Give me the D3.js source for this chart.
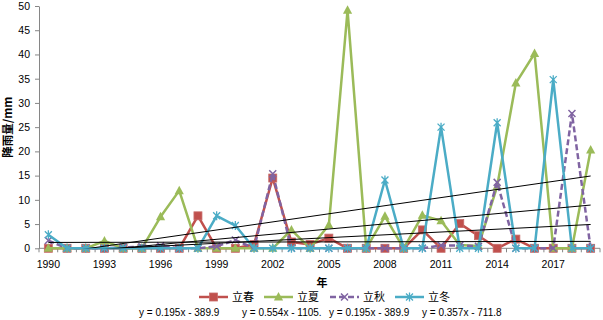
<!DOCTYPE html>
<html>
<head>
<meta charset="utf-8">
<script src="https://cdn.jsdelivr.net/npm/d3@7"></script>
<style>
  body { margin: 0; background: #fff; }
  svg { display: block; }
</style>
</head>
<body>
<svg width="603" height="320"></svg>
<script>
// 年份 / categories
const years = [1990, 1991, 1992, 1993, 1994, 1995, 1996, 1997, 1998, 1999,
               2000, 2001, 2002, 2003, 2004, 2005, 2006, 2007, 2008, 2009,
               2010, 2011, 2012, 2013, 2014, 2015, 2016, 2017, 2018, 2019]
const yearLabels = [1990, 1993, 1996, 1999, 2002, 2005, 2008, 2011, 2014, 2017]
const yTicks = [0, 5, 10, 15, 20, 25, 30, 35, 40, 45, 50]

// 降雨量 (mm)
const lichun = [0, 0, 0, 0, 0, 0, 0, 0, 6.7, 0,
                0, 0.8, 14.5, 1.3, 0.8, 2.1, 0, 0, 0, 0,
                3.8, 0, 5.1, 2.6, 0, 1.9, 0, 0, 0, 0]
const lixia = [0, 0, 0, 1.5, 0, 0, 6.5, 11.9, 0, 0,
               0, 0, 0, 3.8, 0, 4.8, 49.1, 0, 6.6, 0,
               6.8, 5.7, 0.7, 0.5, 12.8, 34.1, 40.2, 0, 0, 20.3]
const liqiu = [1.6, 0, 0, 0, 0.2, 0.3, 0.5, 0, 0, 0.4,
               1.7, 0, 15.4, 0, 0, 0, 0, 0, 0, 0,
               0, 0.6, 0.6, 0.4, 13.6, 0, 0, 0, 27.8, 0]
const lidong = [2.8, 0, 0, 0, 0, 0, 0, 0, 0, 6.7,
                4.7, 0, 0, 0, 0, 0, 0, 0, 14.1, 0,
                0, 25, 0, 0, 25.9, 0, 0, 34.8, 0, 0]

const seriesNames = ["立春", "立夏", "立秋", "立冬"]
const equations = ["y = 0.195x - 389.9", "y = 0.554x - 1105.", "y = 0.195x - 389.9", "y = 0.357x - 711.8"]

const series = [
    {name: seriesNames[0], values: lichun, color: "#C0504D", marker: "square", dash: null},
    {name: seriesNames[1], values: lixia, color: "#9BBB59", marker: "triangle", dash: null},
    {name: seriesNames[2], values: liqiu, color: "#8064A2", marker: "x", dash: "6,3"},
    {name: seriesNames[3], values: lidong, color: "#4BACC6", marker: "star", dash: null}
]

let svg = d3.select("svg"),
    plot = {left: 39, right: 600, top: 6, bottom: 248.3}

let x = d3.scalePoint()
    .domain(years)
    .range([plot.left, plot.right])
    .padding(0.5)

let y = d3.scaleLinear()
    .domain([0, 50])
    .range([plot.bottom, plot.top])

const axisColor = "#868686"
const numFont = "'Liberation Sans', Arial, sans-serif"

// y axis
let yAxis = d3.axisLeft(y).tickValues(yTicks).tickSize(4).tickSizeOuter(0).tickPadding(5)
let gy = svg.append("g")
    .attr("transform", "translate(" + plot.left + ",0)")
    .call(yAxis)
gy.select(".domain").attr("stroke", axisColor)
gy.selectAll(".tick line").attr("stroke", axisColor)
gy.selectAll("text")
    .attr("fill", "#000")
    .style("font-family", numFont)
    .style("font-size", "10.5px")

// x axis: ticks between categories
let step = x.step()
let gx = svg.append("g")
gx.append("line")
    .attr("x1", plot.left).attr("x2", plot.right)
    .attr("y1", plot.bottom).attr("y2", plot.bottom)
    .attr("stroke", axisColor)
gx.selectAll(".xt")
    .data(years.concat([null]))
    .enter().append("line")
    .attr("x1", (d, i) => plot.left + i * step)
    .attr("x2", (d, i) => plot.left + i * step)
    .attr("y1", plot.bottom)
    .attr("y2", plot.bottom + 4)
    .attr("stroke", axisColor)
gx.selectAll(".xl")
    .data(yearLabels)
    .enter().append("text")
    .attr("x", d => x(d))
    .attr("y", 268)
    .attr("text-anchor", "middle")
    .style("font-family", numFont)
    .style("font-size", "10.5px")
    .text(d => d)

// axis titles
svg.append("text")
    .attr("transform", "translate(12," + ((plot.top + plot.bottom) / 2) + ") rotate(-90)")
    .attr("text-anchor", "middle")
    .style("font-family", "'Noto Sans CJK SC', sans-serif")
    .style("font-size", "11.5px")
    .style("font-weight", "bold")
    .text("降雨量/mm")

svg.append("text")
    .attr("x", 322)
    .attr("y", 287)
    .attr("text-anchor", "middle")
    .style("font-family", "'Noto Sans CJK SC', sans-serif")
    .style("font-size", "11px")
    .style("font-weight", "bold")
    .text("年")

// markers
function drawMarker(g, type, color) {
    if (type === "square") {
        g.append("rect").attr("x", -4).attr("y", -4).attr("width", 8).attr("height", 8)
            .attr("fill", color).attr("stroke", "#c86c6a").attr("stroke-width", 0.8)
    } else if (type === "triangle") {
        g.append("path").attr("d", "M0,-5L4.6,3.5L-4.6,3.5Z").attr("fill", color)
    } else if (type === "x") {
        g.append("path").attr("d", "M-3.5,-3.5L3.5,3.5M-3.5,3.5L3.5,-3.5")
            .attr("stroke", color).attr("stroke-width", 1.5).attr("fill", "none")
    } else {
        g.append("path").attr("d", "M-3.5,-3.5L3.5,3.5M-3.5,3.5L3.5,-3.5M0,-4.5L0,4.5")
            .attr("stroke", color).attr("stroke-width", 1.3).attr("fill", "none")
    }
}

let line = d3.line()
    .x((d, i) => x(years[i]))
    .y(d => y(d))

series.forEach(function (s) {
    let g = svg.append("g")
    g.append("path")
        .attr("d", line(s.values))
        .attr("fill", "none")
        .attr("stroke", s.color)
        .attr("stroke-width", 2.5)
        .attr("stroke-linejoin", "round")
        .attr("stroke-dasharray", s.dash)
    s.values.forEach(function (v, i) {
        let m = g.append("g").attr("transform", "translate(" + x(years[i]) + "," + y(v) + ")")
        drawMarker(m, s.marker, s.color)
    })
})

// linear trend lines (least squares), clipped to plot area
svg.append("clipPath").attr("id", "plotclip")
    .append("rect")
    .attr("x", plot.left).attr("y", plot.top)
    .attr("width", plot.right - plot.left).attr("height", plot.bottom - plot.top)

series.forEach(function (s) {
    let n = s.values.length
    let mx = d3.mean(s.values, (d, i) => i)
    let my = d3.mean(s.values)
    let sxy = d3.sum(s.values, (d, i) => (i - mx) * (d - my))
    let sxx = d3.sum(s.values, (d, i) => (i - mx) * (i - mx))
    let b = sxy / sxx, a = my - b * mx
    svg.append("line")
        .attr("clip-path", "url(#plotclip)")
        .attr("x1", x(years[0])).attr("y1", y(a))
        .attr("x2", x(years[n - 1])).attr("y2", y(a + b * (n - 1)))
        .attr("stroke", "#000")
        .attr("stroke-width", 1)
})

// legend
const legendX = [199, 264, 330, 395]
series.forEach(function (s, i) {
    let g = svg.append("g").attr("transform", "translate(" + legendX[i] + ",297)")
    g.append("line")
        .attr("x1", 0).attr("x2", 29)
        .attr("stroke", s.color).attr("stroke-width", 2.5)
        .attr("stroke-dasharray", s.dash)
    drawMarker(g.append("g").attr("transform", "translate(14.5,0)"), s.marker, s.color)
    g.append("text")
        .attr("x", 33)
        .attr("y", 4)
        .style("font-family", "'Noto Sans CJK SC', sans-serif")
        .style("font-size", "11px")
        .text(s.name)
})

// trend equations
const eqX = [139, 242, 329, 422]
svg.selectAll(".eq")
    .data(equations)
    .enter().append("text")
    .attr("x", (d, i) => eqX[i])
    .attr("y", 316)
    .style("font-family", numFont)
    .style("font-size", "10px")
    .text(d => d)
</script>
</body>
</html>
